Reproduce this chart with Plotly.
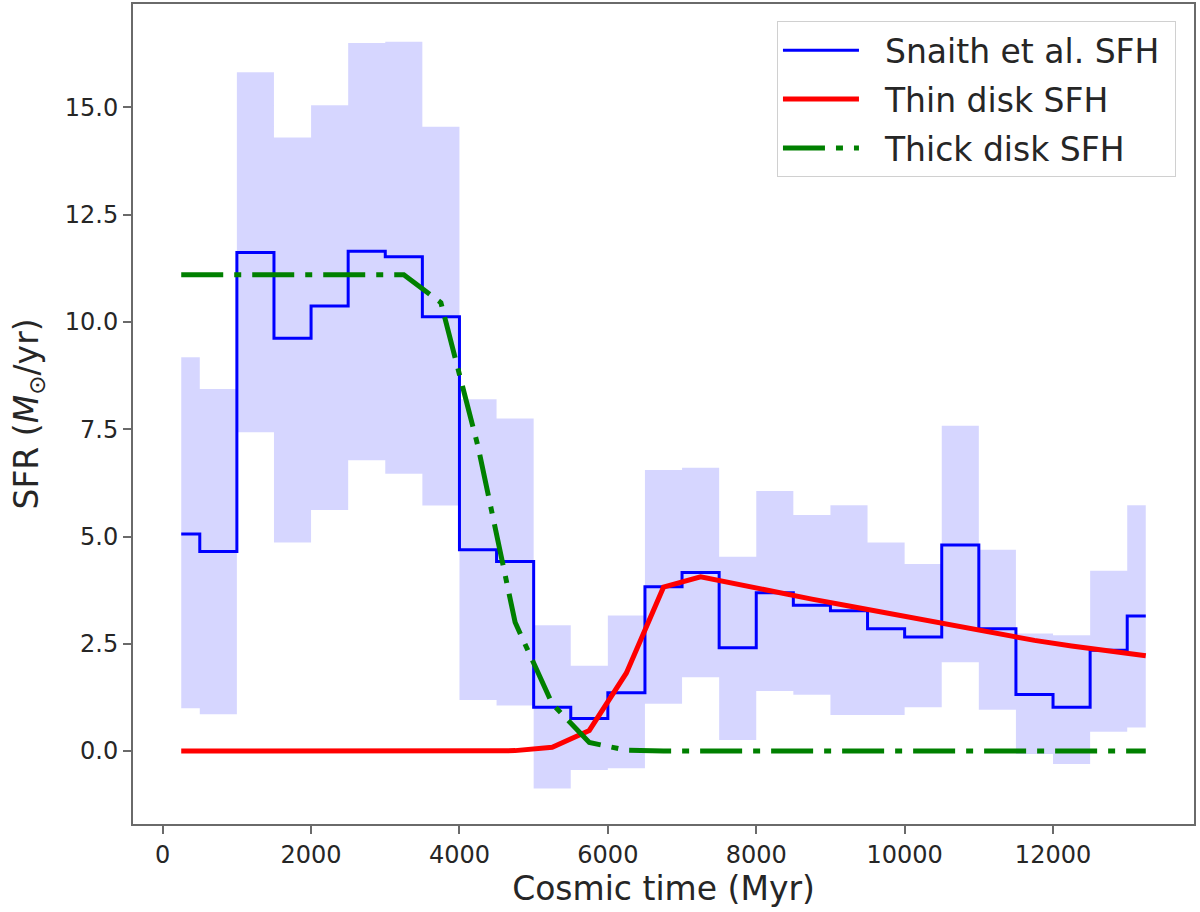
import plotly.graph_objects as go

# bin centres (Myr) - steps are drawn centred on these
time_myr = [250, 750, 1250, 1750, 2250, 2750, 3250, 3750, 4250, 4750,
            5250, 5750, 6250, 6750, 7250, 7750, 8250, 8750, 9250, 9750,
            10250, 10750, 11250, 11750, 12250, 12750, 13250]

snaith_sfr = [5.06, 4.65, 11.62, 9.62, 10.37, 11.65, 11.52, 10.12, 4.69, 4.42,
              1.02, 0.76, 1.36, 3.83, 4.16, 2.41, 3.69, 3.40, 3.27, 2.85,
              2.66, 4.80, 2.85, 1.32, 1.02, 2.35, 3.15]
snaith_upper = [9.18, 8.44, 15.82, 14.30, 15.05, 16.50, 16.53, 14.55, 8.20, 7.75,
                2.93, 1.99, 3.16, 6.55, 6.60, 4.53, 6.06, 5.50, 5.73, 4.86,
                4.36, 7.58, 4.69, 2.74, 2.70, 4.20, 5.73]
snaith_lower = [1.00, 0.86, 7.43, 4.86, 5.62, 6.78, 6.46, 5.72, 1.19, 1.06,
                -0.87, -0.44, -0.40, 1.10, 1.72, 0.26, 1.40, 1.31, 0.84, 0.84,
                1.02, 2.07, 0.96, -0.07, -0.30, 0.45, 0.55]

thin_sfr = [0, 0, 0, 0, 0, 0, 0, 0, 0, 0.01,
            0.09, 0.48, 1.82, 3.82, 4.06, 3.88, 3.71, 3.54, 3.38, 3.22,
            3.05, 2.88, 2.73, 2.58, 2.45, 2.34, 2.22]
thick_sfr = [11.1, 11.1, 11.1, 11.1, 11.1, 11.1, 11.1, 10.45, 7.1, 3.0,
             1.1, 0.2, 0.02, 0, 0, 0, 0, 0, 0, 0,
             0, 0, 0, 0, 0, 0, 0]

x_ticks = [0, 2000, 4000, 6000, 8000, 10000, 12000]
x_tick_labels = ["0", "2000", "4000", "6000", "8000", "10000", "12000"]
y_ticks = [0.0, 2.5, 5.0, 7.5, 10.0, 12.5, 15.0]
y_tick_labels = ["0.0", "2.5", "5.0", "7.5", "10.0", "12.5", "15.0"]

FONT = "DejaVu Sans"
TEXT = "#262626"
PAD = "\u00a0\u00a0"  # a bit of room between legend line and label


def label(s):
    return PAD + s + "\u00a0"


fig = go.Figure()

# uncertainty band
fig.add_trace(go.Scatter(
    x=time_myr, y=snaith_lower, mode="lines", line=dict(width=0, shape="hvh"),
    showlegend=False, hoverinfo="skip",
))
fig.add_trace(go.Scatter(
    x=time_myr, y=snaith_upper, mode="lines", line=dict(width=0, shape="hvh"),
    fill="tonexty", fillcolor="rgba(0,0,255,0.16)",
    showlegend=False, hoverinfo="skip",
))

fig.add_trace(go.Scatter(
    x=time_myr, y=snaith_sfr, mode="lines", name=label("Snaith et al. SFH"),
    legendgroup="a", line=dict(color="blue", width=3, shape="hvh"),
))
fig.add_trace(go.Scatter(
    x=time_myr, y=thin_sfr, mode="lines", name=label("Thin disk SFH"),
    legendgroup="b", line=dict(color="red", width=5),
))
fig.add_trace(go.Scatter(
    x=time_myr, y=thick_sfr, mode="lines", name=label("Thick disk SFH"),
    legendgroup="c", line=dict(color="green", width=5, dash="42px,11px,7px,11px"),
))

axis_common = dict(
    showgrid=False, zeroline=False, showline=True, mirror=True,
    linecolor="#6a6a6a", linewidth=2, automargin=False,
    ticks="outside", ticklen=8, tickwidth=1.5, tickcolor="#6a6a6a",
    tickfont=dict(family=FONT, size=24, color=TEXT),
)

fig.update_xaxes(
    range=[-400, 13900], tickvals=x_ticks, ticktext=x_tick_labels,
    title=dict(text="Cosmic time (Myr)", standoff=8,
               font=dict(family=FONT, size=33, color=TEXT)),
    **axis_common,
)
fig.update_yaxes(
    range=[-1.70, 17.41], tickvals=y_ticks, ticktext=y_tick_labels,
    title=dict(text="SFR (<i>M</i><sub>⊙</sub>/yr)", standoff=16,
               font=dict(family=FONT, size=33, color=TEXT)),
    **axis_common,
)

fig.update_layout(
    width=1200, height=912,
    margin=dict(l=133, r=6, t=4, b=88),
    plot_bgcolor="white", paper_bgcolor="white",
    legend=dict(
        x=0.983, y=0.979, xanchor="right", yanchor="top",
        traceorder="grouped", tracegroupgap=3,
        bgcolor="rgba(255,255,255,0.85)", bordercolor="#d0d0d0", borderwidth=1,
        font=dict(family=FONT, size=33, color=TEXT),
        itemwidth=76,
    ),
)

fig.write_html(
    "out.html",
    config={"displayModeBar": False},
    post_script="document.body.style.margin='0px';document.body.style.overflow='hidden';",
)
